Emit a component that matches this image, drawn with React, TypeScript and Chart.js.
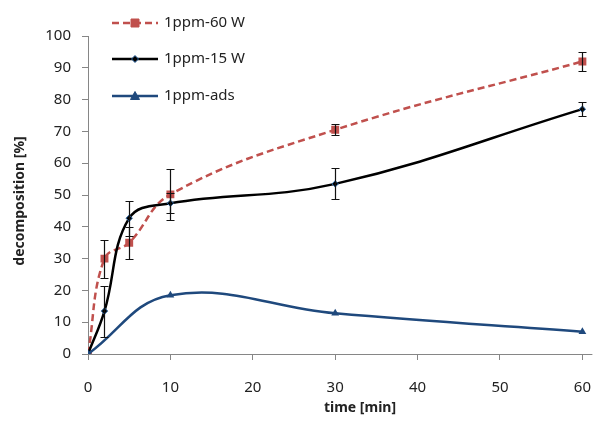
import React, { useEffect, useRef } from "react";
import { Chart, registerables } from "chart.js";

Chart.register(...registerables);

// Sampling times [min]
const times = [0, 2, 5, 10, 30, 60];
const adsTimes = [0, 10, 30, 60];

// Decomposition [%] and error half-widths
const decomp60W = [0, 30, 35, 50.2, 70.5, 92];
const err60W = [0, 6, 5, 8.1, 1.7, 3];
const decomp15W = [0, 13.5, 42.7, 47.4, 53.5, 77];
const err15W = [0, 8, 5.5, 3.2, 4.9, 2.1];
const decompAds = [0, 18.5, 12.8, 7];

const seriesLabels = ["1ppm-60 W", "1ppm-15 W", "1ppm-ads"];
const xTicks = [0, 10, 20, 30, 40, 50, 60];
const yTicks = [0, 10, 20, 30, 40, 50, 60, 70, 80, 90, 100];
const xTitle = "time [min]";
const yTitle = "decomposition [%]";

const FONT = "'Noto Sans', 'Open Sans', sans-serif";
const RED = "#c0504d";
const BLACK = "#000000";
const NAVY = "#1f497d";
const AXIS = "#868686";
const TEXT = "#222222";

const toPoints = (xs: number[], ys: number[]) => xs.map((x, i) => ({ x, y: ys[i] }));

function drawMarker(ctx: CanvasRenderingContext2D, style: string, x: number, y: number, fill: string, stroke: string) {
  ctx.save();
  ctx.fillStyle = fill;
  ctx.strokeStyle = stroke;
  ctx.lineWidth = 1;
  ctx.setLineDash([]);
  ctx.beginPath();
  if (style === "rect") {
    ctx.rect(x - 4, y - 4, 8, 8);
  } else if (style === "rectRot") {
    ctx.moveTo(x, y - 3.5);
    ctx.lineTo(x + 3.5, y);
    ctx.lineTo(x, y + 3.5);
    ctx.lineTo(x - 3.5, y);
    ctx.closePath();
  } else {
    ctx.moveTo(x, y - 4.5);
    ctx.lineTo(x + 4.5, y + 3.5);
    ctx.lineTo(x - 4.5, y + 3.5);
    ctx.closePath();
  }
  ctx.fill();
  ctx.stroke();
  ctx.restore();
}

const errorSets: (number[] | null)[] = [err60W, err15W, null];

const errorBarsPlugin = {
  id: "errorBars",
  afterDatasetsDraw(chart: any) {
    const { ctx, scales } = chart;
    const xs = scales.x;
    const ys = scales.y;
    ctx.save();
    ctx.strokeStyle = "#111";
    ctx.lineWidth = 1.2;
    ctx.setLineDash([]);
    chart.data.datasets.forEach((ds: any, i: number) => {
      const errs = errorSets[i];
      if (!errs) return;
      ds.data.forEach((p: any, j: number) => {
        const e = errs[j];
        if (!e) return;
        const x = Math.round(xs.getPixelForValue(p.x)) + 0.5;
        const yt = Math.round(ys.getPixelForValue(p.y + e)) + 0.5;
        const yb = Math.round(ys.getPixelForValue(p.y - e)) + 0.5;
        ctx.beginPath();
        ctx.moveTo(x, yt);
        ctx.lineTo(x, yb);
        ctx.moveTo(x - 4, yt);
        ctx.lineTo(x + 4, yt);
        ctx.moveTo(x - 4, yb);
        ctx.lineTo(x + 4, yb);
        ctx.stroke();
      });
    });
    ctx.restore();
  },
};

const legendAndTitlesPlugin = {
  id: "legendAndTitles",
  afterDraw(chart: any) {
    const { ctx, chartArea } = chart;
    ctx.save();
    // axis line runs a little past the last tick
    ctx.strokeStyle = AXIS;
    ctx.lineWidth = 1;
    ctx.beginPath();
    ctx.moveTo(chartArea.right, Math.round(chartArea.bottom) + 0.5);
    ctx.lineTo(chartArea.right + 3, Math.round(chartArea.bottom) + 0.5);
    ctx.stroke();
    // legend
    const rows = [23, 59, 96];
    chart.data.datasets.forEach((ds: any, i: number) => {
      const y = rows[i];
      ctx.beginPath();
      ctx.strokeStyle = ds.borderColor;
      ctx.lineWidth = ds.borderWidth;
      ctx.setLineDash(ds.borderDash || []);
      ctx.moveTo(112, y);
      ctx.lineTo(158, y);
      ctx.stroke();
      drawMarker(ctx, ds.pointStyle, 135, y, ds.pointBackgroundColor, ds.pointBorderColor);
      ctx.fillStyle = TEXT;
      ctx.font = `15px ${FONT}`;
      ctx.textAlign = "left";
      ctx.textBaseline = "middle";
      ctx.fillText(ds.label, 164, y);
    });
    // axis titles
    ctx.fillStyle = TEXT;
    ctx.font = `bold 14px ${FONT}`;
    ctx.textAlign = "center";
    ctx.textBaseline = "middle";
    ctx.fillText(xTitle, 360, 408);
    ctx.translate(20, (chartArea.top + chartArea.bottom) / 2 + 6);
    ctx.rotate(-Math.PI / 2);
    ctx.fillText(yTitle, 0, 0);
    ctx.restore();
  },
};

export default function App() {
  const canvasRef = useRef<HTMLCanvasElement | null>(null);

  useEffect(() => {
    const canvas = canvasRef.current;
    if (!canvas) return;
    const chart = new Chart(canvas, {
      type: "line",
      data: {
        datasets: [
          {
            label: seriesLabels[0],
            data: toPoints(times, decomp60W),
            borderColor: RED,
            borderWidth: 2.5,
            borderDash: [7, 4],
            pointStyle: "rect",
            pointRadius: 5.6,
            pointBackgroundColor: RED,
            pointBorderColor: RED,
            pointBorderWidth: 0,
            tension: 0.4,
            order: 3,
          },
          {
            label: seriesLabels[1],
            data: toPoints(times, decomp15W),
            borderColor: BLACK,
            borderWidth: 2.5,
            pointStyle: "rectRot",
            pointRadius: 3.2,
            pointBackgroundColor: BLACK,
            pointBorderColor: "#2f6aa8",
            pointBorderWidth: 1,
            tension: 0.4,
            order: 2,
          },
          {
            label: seriesLabels[2],
            data: toPoints(adsTimes, decompAds),
            borderColor: NAVY,
            borderWidth: 2.5,
            pointStyle: "triangle",
            pointRadius: 4.5,
            pointBackgroundColor: NAVY,
            pointBorderColor: NAVY,
            pointBorderWidth: 0,
            tension: 0.4,
            order: 1,
          },
        ],
      },
      options: {
        animation: false,
        responsive: false,
        layout: { padding: { top: 36, right: 0, left: 0, bottom: 0 } },
        plugins: { legend: { display: false }, tooltip: { enabled: false } },
        scales: {
          x: {
            type: "linear",
            min: 0,
            max: 60.85,
            afterBuildTicks: (scale: any) => {
              scale.ticks = xTicks.map((v) => ({ value: v }));
            },
            afterFit: (scale: any) => {
              scale.height = 73;
              scale.paddingLeft = 0;
              scale.paddingRight = 0;
            },
            border: { color: AXIS, width: 1 },
            grid: { drawOnChartArea: false, drawTicks: true, tickLength: 6, tickColor: AXIS },
            ticks: { color: TEXT, font: { family: FONT, size: 15 }, padding: 19, maxRotation: 0 },
          },
          y: {
            min: 0,
            max: 100,
            afterBuildTicks: (scale: any) => {
              scale.ticks = yTicks.map((v) => ({ value: v }));
            },
            afterFit: (scale: any) => {
              scale.width = 88;
              scale.paddingTop = 0;
              scale.paddingBottom = 0;
            },
            border: { color: AXIS, width: 1 },
            grid: { drawOnChartArea: false, drawTicks: true, tickLength: 6, tickColor: AXIS },
            ticks: { color: TEXT, font: { family: FONT, size: 15 }, padding: 11 },
          },
        },
      },
      plugins: [errorBarsPlugin, legendAndTitlesPlugin],
    });
    return () => chart.destroy();
  }, []);

  return (
    <div style={{ position: "fixed", left: 0, top: 0, width: 595, height: 427, background: "#fff" }}>
      <canvas ref={canvasRef} width={595} height={427} style={{ display: "block" }} />
    </div>
  );
}
